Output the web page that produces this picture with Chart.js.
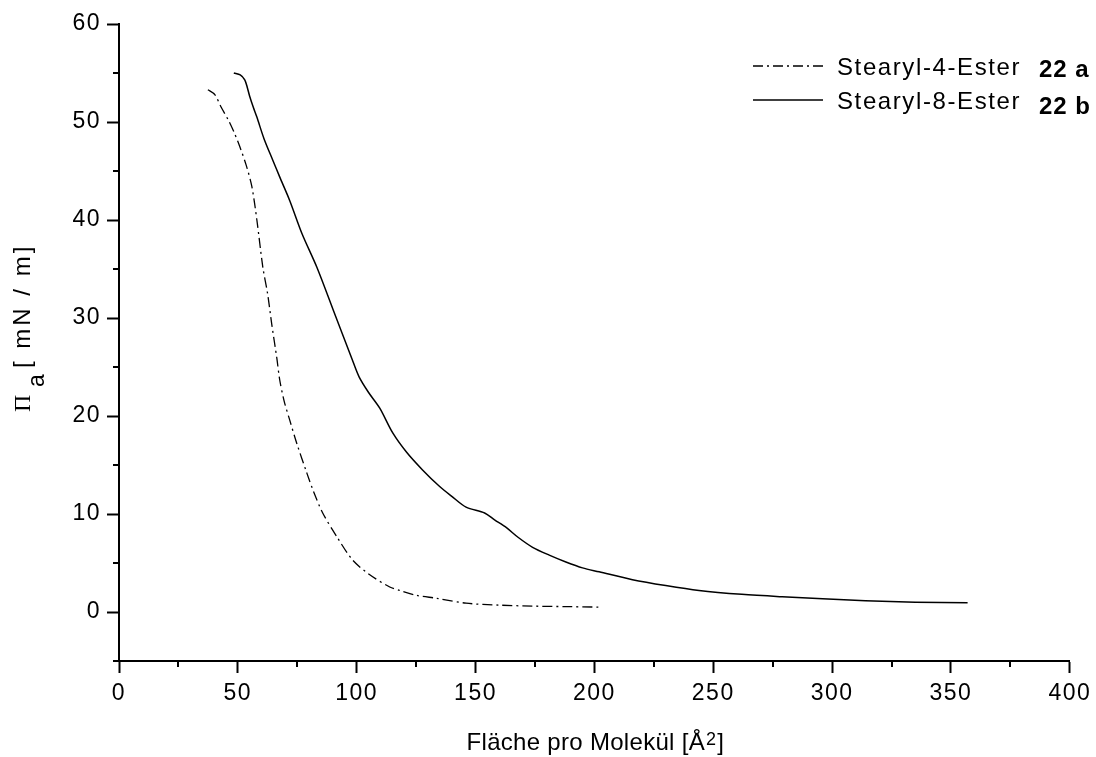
<!DOCTYPE html>
<html>
<head>
<meta charset="utf-8">
<script src="https://cdn.jsdelivr.net/npm/chart.js@4/dist/chart.umd.min.js"></script>
<style>
  html, body { margin: 0; padding: 0; background: #fff; }
  #wrap { width: 1096px; height: 757px; position: relative; }
</style>
</head>
<body>
<div id="wrap"><canvas id="chart"></canvas></div>
<script>
// Stearyl-4-Ester (22 a), dash-dot curve
const esterA_x = [37.4, 40.3, 43, 46, 48.5, 50.8, 53.5, 55.9, 58, 60.5, 62.5, 64.3, 66.4, 67.6, 69.5, 71.8, 74.8, 79, 82, 85.7, 91.6, 98.3, 105.5, 113.9, 118, 125.2, 133.6, 146, 160, 174, 188, 201.7];
const esterA_y = [53.3, 52.8, 51.5, 50.2, 48.9, 47.5, 45.6, 43.4, 40, 35.2, 32.5, 29.3, 25.9, 23.7, 21.5, 19.6, 17.2, 14.2, 12.2, 10.1, 7.7, 5.3, 3.8, 2.55, 2.2, 1.7, 1.4, 0.9, 0.7, 0.6, 0.55, 0.5];

// Stearyl-8-Ester (22 b), solid curve
const esterB_x = [48.3, 51, 52.9, 54, 55, 56.5, 58, 61, 64.7, 67.6, 71.8, 77, 83.2, 90, 97.9, 101, 105, 109.7, 115.1, 121, 127.7, 134.9, 140, 146, 153.8, 158, 163, 168, 174, 181, 188, 195, 202, 216, 230, 244, 262, 279, 296, 314, 335, 357];
const esterB_y = [55.0, 54.8, 54.3, 53.5, 52.6, 51.5, 50.5, 48.3, 46.1, 44.4, 42.0, 38.6, 35.2, 30.9, 25.9, 24.0, 22.4, 20.8, 18.3, 16.3, 14.5, 12.8, 11.8, 10.7, 10.1, 9.4, 8.6, 7.6, 6.6, 5.8, 5.1, 4.5, 4.1, 3.3, 2.7, 2.2, 1.8, 1.55, 1.35, 1.15, 1.0, 0.95];

const seriesNames = ['Stearyl-4-Ester', 'Stearyl-8-Ester'];
const seriesTags = ['22 a', '22 b'];

const xMin = 0, xMax = 400, xStep = 25, xMajor = 50;
const yMin = -5, yMax = 60, yStep = 5, yMajor = 10;

function toPoints(xs, ys) {
  return xs.map((x, i) => ({x: x, y: ys[i]}));
}

const SANS = '"Liberation Sans", Arial, Helvetica, sans-serif';
const SERIF = '"Liberation Serif", "Times New Roman", serif';

// minor ticks, axis titles and the legend are drawn by hand
const decorPlugin = {
  id: 'decor',
  beforeDraw(chart) {
    chart.ctx.letterSpacing = '1.5px';
  },
  afterDraw(chart) {
    const ctx = chart.ctx;
    const xs = chart.scales.x, ys = chart.scales.y;
    const area = chart.chartArea;
    ctx.save();
    ctx.strokeStyle = '#000';
    ctx.lineWidth = 2;

    // minor ticks
    ctx.beginPath();
    for (let v = xMin; v <= xMax; v += xStep) {
      if (v % xMajor === 0) continue;
      const px = Math.round(xs.getPixelForValue(v));
      ctx.moveTo(px, area.bottom);
      ctx.lineTo(px, area.bottom + 6);
    }
    for (let v = yMin; v <= yMax; v += yStep) {
      if (v % yMajor === 0) continue;
      const py = Math.round(ys.getPixelForValue(v));
      ctx.moveTo(area.left, py);
      ctx.lineTo(area.left - 6, py);
    }
    ctx.stroke();

    ctx.fillStyle = '#000';

    // x title with superscript 2
    ctx.letterSpacing = '0.3px';
    ctx.textBaseline = 'alphabetic';
    ctx.textAlign = 'left';
    const xPart1 = 'Fläche pro Molekül [Å';
    const xPart2 = '2';
    const xPart3 = ']';
    ctx.font = '24px ' + SANS;
    const w1 = ctx.measureText(xPart1).width;
    const w3 = ctx.measureText(xPart3).width;
    ctx.font = '18px ' + SANS;
    const w2 = ctx.measureText(xPart2).width;
    let tx = (area.left + area.right) / 2 - (w1 + w2 + w3) / 2;
    const tb = 750;
    ctx.font = '24px ' + SANS;
    ctx.fillText(xPart1, tx, tb);
    ctx.font = '18px ' + SANS;
    ctx.fillText(xPart2, tx + w1 + 1, tb - 5);
    ctx.font = '24px ' + SANS;
    ctx.fillText(xPart3, tx + w1 + w2 + 2, tb);

    // y title: Π with subscript a
    ctx.save();
    ctx.translate(30, 412);
    ctx.rotate(-Math.PI / 2);
    ctx.letterSpacing = '0px';
    ctx.font = '24px ' + SERIF;
    ctx.fillText('Π', 0, 0);
    ctx.font = '23px ' + SANS;
    ctx.fillText('a', 25, 14);
    ctx.letterSpacing = '3px';
    ctx.font = '24px ' + SANS;
    ctx.fillText('[ mN / m]', 44, 0);
    ctx.restore();

    // legend
    const rows = [
      {y: 66, dash: chart.data.datasets[0].borderDash, tagDy: 2},
      {y: 100, dash: [], tagDy: 5}
    ];
    rows.forEach((r, i) => {
      ctx.save();
      ctx.lineWidth = 1.3;
      ctx.setLineDash(r.dash);
      ctx.beginPath();
      ctx.moveTo(753, r.y);
      ctx.lineTo(823, r.y);
      ctx.stroke();
      ctx.restore();
      ctx.letterSpacing = '1.6px';
      ctx.font = '24px ' + SANS;
      ctx.fillText(seriesNames[i], 837, r.y + 9);
      ctx.letterSpacing = '1px';
      ctx.font = 'bold 24px ' + SANS;
      ctx.fillText(seriesTags[i], 1039, r.y + 9 + r.tagDy);
    });

    ctx.restore();
  }
};

const ctxEl = document.getElementById('chart');
new Chart(ctxEl, {
  type: 'scatter',
  data: {
    datasets: [
      {
        label: seriesNames[0],
        data: toPoints(esterA_x, esterA_y),
        showLine: true,
        borderColor: '#000',
        borderWidth: 1.3,
        borderDash: [10, 4, 2, 4],
        pointRadius: 0,
        tension: 0.3,
        fill: false
      },
      {
        label: seriesNames[1],
        data: toPoints(esterB_x, esterB_y),
        showLine: true,
        borderColor: '#000',
        borderWidth: 1.5,
        pointRadius: 0,
        tension: 0.3,
        fill: false
      }
    ]
  },
  options: {
    responsive: true,
    maintainAspectRatio: false,
    animation: false,
    layout: { padding: { left: 0, top: 24, right: 25, bottom: 0 } },
    plugins: {
      legend: { display: false },
      tooltip: { enabled: false }
    },
    scales: {
      x: {
        type: 'linear',
        min: xMin,
        max: xMax,
        afterFit: (scale) => { scale.height = 96; },
        border: { display: true, color: '#000', width: 2 },
        grid: {
          drawOnChartArea: false,
          drawTicks: true,
          tickLength: 12,
          tickWidth: 2,
          tickColor: (c) => (c.tick && c.tick.value % xMajor === 0) ? '#000' : 'rgba(0,0,0,0)'
        },
        ticks: {
          stepSize: xStep,
          autoSkip: false,
          maxRotation: 0,
          padding: 7,
          color: '#000',
          font: { family: SANS, size: 23 },
          callback: (v) => v % xMajor === 0 ? String(v) : ''
        }
      },
      y: {
        type: 'linear',
        min: yMin,
        max: yMax,
        afterFit: (scale) => { scale.width = 119; },
        border: { display: true, color: '#000', width: 2 },
        grid: {
          drawOnChartArea: false,
          drawTicks: true,
          tickLength: 12,
          tickWidth: 2,
          tickColor: (c) => (c.tick && c.tick.value % yMajor === 0) ? '#000' : 'rgba(0,0,0,0)'
        },
        ticks: {
          stepSize: yStep,
          autoSkip: false,
          padding: 6,
          color: '#000',
          font: { family: SANS, size: 23 },
          callback: (v) => v % yMajor === 0 ? String(v) : ''
        }
      }
    }
  },
  plugins: [decorPlugin]
});
</script>
</body>
</html>
